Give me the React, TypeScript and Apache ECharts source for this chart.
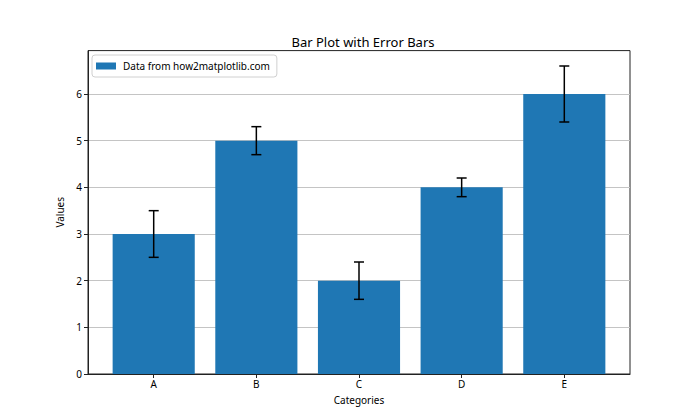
import React, { useEffect, useRef } from "react";
import * as echarts from "echarts";

const categories = ["A", "B", "C", "D", "E"];
const values = [3, 5, 2, 4, 6];
const errors = [0.5, 0.3, 0.4, 0.2, 0.6];
const yTicks = [0, 1, 2, 3, 4, 5, 6];
const seriesName = "Data from how2matplotlib.com";

const FONT = "Noto Sans";
const BAR_COLOR = "#1f77b4";

export default function App() {
  const ref = useRef<HTMLDivElement>(null);
  useEffect(() => {
    if (!ref.current) return;
    const chart = echarts.init(ref.current, null, { renderer: "svg" });
    const xIdx = categories.map((_, i) => i);
    const barData = categories.map((_, i) => [i, values[i]]);
    const errData = categories.map((_, i) => [i, values[i] - errors[i], values[i] + errors[i]]);
    const yMax = Math.max(...errData.map((d) => d[2])) * 1.05;
    chart.setOption({
      animation: false,
      textStyle: { fontFamily: FONT },
      title: {
        text: "Bar Plot with Error Bars",
        left: 358,
        textAlign: "center",
        top: 30,
        textStyle: { fontFamily: FONT, fontSize: 13, fontWeight: "normal", color: "#000" },
      },
      legend: {
        left: 92,
        top: 55,
        orient: "vertical",
        icon: "rect",
        itemWidth: 20,
        itemHeight: 7,
        itemGap: 4,
        padding: [6, 7, 6, 4],
        borderColor: "#d0d0d0",
        borderWidth: 1,
        borderRadius: 3,
        backgroundColor: "rgba(255,255,255,0.8)",
        textStyle: { fontFamily: FONT, fontSize: 10, color: "#000", padding: [0, 0, 0, 2] },
        data: [{ name: seriesName, itemStyle: { color: BAR_COLOR } }],
      },
      grid: {
        left: 88,
        right: 70,
        top: 50.6,
        bottom: 46,
        show: true,
        borderColor: "#222",
        borderWidth: 1,
        backgroundColor: "transparent",
      },
      xAxis: {
        type: "value",
        min: -0.64,
        max: 4.64,
        name: "Categories",
        nameLocation: "middle",
        nameGap: 21,
        nameTextStyle: { fontFamily: FONT, fontSize: 10, color: "#000" },
        axisLine: { show: true, onZero: false, lineStyle: { color: "#222", width: 1 } },
        axisTick: { show: true, customValues: xIdx, length: 4, lineStyle: { color: "#222" } },
        axisLabel: {
          customValues: xIdx,
          formatter: (v: number) => categories[Math.round(v)] ?? "",
          fontFamily: FONT,
          fontSize: 10,
          color: "#000",
          margin: 5,
        },
        splitLine: { show: false },
      },
      yAxis: {
        type: "value",
        min: 0,
        max: yMax,
        interval: 1,
        name: "Values",
        nameLocation: "middle",
        nameGap: 21,
        nameTextStyle: { fontFamily: FONT, fontSize: 10, color: "#000" },
        axisLine: { show: true, onZero: false, lineStyle: { color: "#222", width: 1 } },
        axisTick: { show: true, customValues: yTicks, length: 4, lineStyle: { color: "#222" } },
        axisLabel: {
          customValues: yTicks,
          fontFamily: FONT,
          fontSize: 10,
          color: "#000",
          margin: 6,
        },
        splitLine: { show: true, lineStyle: { color: "#c4c4c4", width: 1 } },
      },
      series: [
        {
          name: seriesName,
          type: "custom",
          itemStyle: { color: BAR_COLOR },
          encode: { x: 0, y: 1 },
          data: barData,
          z: 2,
          renderItem: (params: any, api: any) => {
            const x = api.value(0);
            const y = api.value(1);
            const p0 = api.coord([x - 0.4, 0]);
            const p1 = api.coord([x + 0.4, y]);
            return {
              type: "rect",
              shape: { x: p0[0], y: p1[1], width: p1[0] - p0[0], height: p0[1] - p1[1] },
              style: { fill: BAR_COLOR },
            };
          },
        },
        {
          name: "errors",
          type: "custom",
          encode: { x: 0, y: [1, 2] },
          data: errData,
          z: 5,
          silent: true,
          renderItem: (params: any, api: any) => {
            const x = api.value(0);
            const lo = api.coord([x, api.value(1)]);
            const hi = api.coord([x, api.value(2)]);
            const cap = 5;
            const st = { stroke: "#000", lineWidth: 1.5 };
            return {
              type: "group",
              children: [
                { type: "line", shape: { x1: lo[0], y1: lo[1], x2: hi[0], y2: hi[1] }, style: st },
                { type: "line", shape: { x1: lo[0] - cap, y1: lo[1], x2: lo[0] + cap, y2: lo[1] }, style: st },
                { type: "line", shape: { x1: hi[0] - cap, y1: hi[1], x2: hi[0] + cap, y2: hi[1] }, style: st },
              ],
            };
          },
        },
      ],
    });
    return () => chart.dispose();
  }, []);
  return (
    <div
      ref={ref}
      style={{ position: "fixed", left: 0, top: 0, width: 700, height: 420, background: "#fff" }}
    />
  );
}
